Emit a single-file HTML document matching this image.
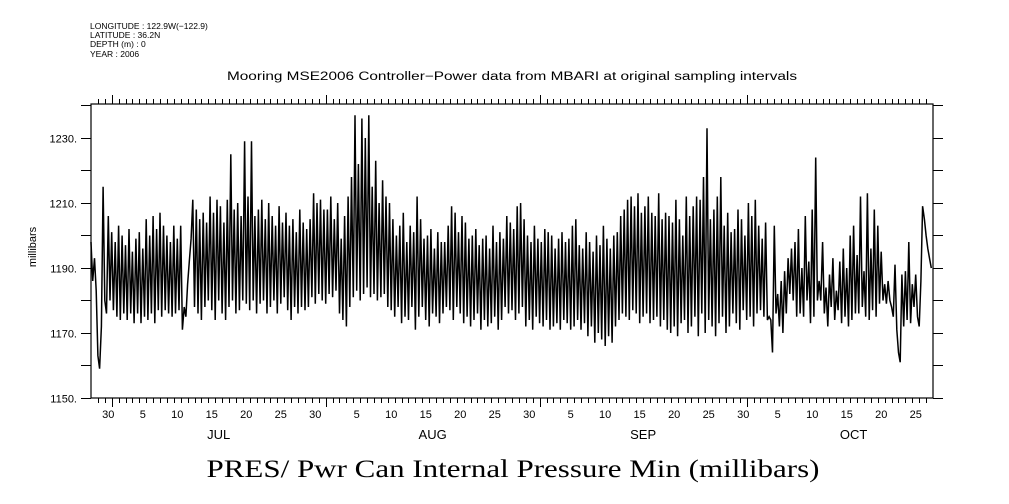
<!DOCTYPE html>
<html><head><meta charset="utf-8"><style>
html,body{margin:0;padding:0;background:#fff;}
svg{display:block;font-family:"Liberation Sans",sans-serif;}
</style></head><body>
<svg id="chart" width="1009" height="504" viewBox="0 0 1009 504" xmlns="http://www.w3.org/2000/svg">
<g font-size="8.5" fill="#000">
<text x="90" y="29">LONGITUDE : 122.9W(−122.9)</text>
<text x="90" y="38">LATITUDE : 36.2N</text>
<text x="90" y="47">DEPTH (m) : 0</text>
<text x="90" y="57">YEAR : 2006</text>
</g>
<text x="512" y="80" font-size="11.5" text-anchor="middle" textLength="570" lengthAdjust="spacingAndGlyphs">Mooring MSE2006 Controller−Power data from MBARI at original sampling intervals</text>
<text transform="translate(36,247) rotate(-90)" font-size="11" text-anchor="middle">millibars</text>
<text x="513" y="477" font-family="Liberation Serif, serif" font-size="25" text-anchor="middle" textLength="613" lengthAdjust="spacingAndGlyphs">PRES/ Pwr Can Internal Pressure Min (millibars)</text>
<rect x="91" y="104" width="842" height="294" fill="none" stroke="#000" stroke-width="1.2"/>
<g id="axes"></g>
<path id="series" fill="none" stroke="#000" stroke-width="1.5" stroke-linejoin="miter"/>
</svg>
<script>
const yTicks = [1150, 1170, 1190, 1210, 1230];
const yMinor = [1160, 1180, 1200, 1220, 1240];
const monthNames = ["JUL", "AUG", "SEP", "OCT"];
const monthStartDays = [0, 31, 62, 92];
const monthLengths = [31, 31, 30, 31];
const dayLabels = ["30","5","10","15","20","25","30","5","10","15","20","25","30","5","10","15","20","25","30","5","10","15","20","25"];
const dayLabelDays = [-1,4,9,14,19,24,29,35,40,45,50,55,60,66,71,76,81,86,91,96,101,106,111,116];
const startDay = -3; // Jun 28
const samplesPerDay = 4;
const pres = [
1198,1186,1193,1183, 1163,1159,1172,1215, 1180,1176,1206,1180,
1201,1177,1198,1175, 1203,1174,1200,1176, 1197,1174,1202,1176, 1195,1173,1199,1176,
1201,1173,1196,1175, 1205,1174,1200,1176, 1206,1173,1202,1177, 1207,1175,1203,1177,
1200,1176,1198,1175, 1203,1176,1199,1177, 1203,1171,1178,1175, 1185,1192,1199,1211,
1178,1208,1176,1205, 1174,1207,1178,1204, 1180,1212,1177,1207, 1174,1211,1180,1209,
1176,1204,1174,1211, 1178,1225,1180,1208, 1176,1210,1177,1206, 1180,1229,1179,1212,
1177,1229,1180,1206, 1176,1208,1179,1211, 1180,1205,1176,1210, 1178,1206,1180,1203,
1176,1209,1179,1204, 1181,1207,1177,1203, 1174,1205,1178,1201, 1176,1208,1178,1204,
1177,1202,1178,1205, 1181,1213,1179,1210, 1182,1211,1180,1208,
1179,1208,1182,1212, 1181,1205,1183,1210, 1176,1199,1174,1206, 1172,1212,1178,1218,
1181,1237,1183,1222, 1180,1236,1182,1230, 1184,1237,1181,1215, 1182,1223,1180,1210,
1181,1217,1182,1212, 1178,1210,1177,1205, 1175,1200,1178,1203, 1173,1207,1175,1198,
1174,1203,1178,1201, 1171,1212,1175,1205, 1178,1199,1174,1200, 1172,1202,1176,1196,
1175,1201,1173,1198, 1176,1198,1178,1203, 1177,1209,1174,1207, 1178,1201,1176,1206,
1173,1204,1175,1199, 1172,1200,1174,1202, 1176,1197,1171,1199, 1174,1200,1172,1196,
1173,1203,1175,1198, 1171,1201,1174,1199, 1178,1206,1176,1204, 1177,1202,1174,1209,
1176,1210,1178,1205, 1172,1200,1174,1198, 1171,1203,1175,1199,
1173,1198,1172,1202, 1174,1201,1171,1200, 1172,1196,1173,1199, 1171,1201,1174,1198,
1173,1199,1171,1203, 1172,1205,1174,1197, 1171,1196,1173,1201, 1169,1198,1172,1195,
1167,1200,1170,1197, 1168,1203,1166,1199, 1169,1196,1167,1200, 1172,1201,1174,1206,
1176,1208,1175,1211, 1174,1212,1177,1209, 1176,1213,1173,1207, 1175,1209,1176,1212,
1173,1207,1174,1206, 1175,1213,1172,1205, 1174,1207,1171,1206, 1170,1204,1172,1211,
1169,1205,1173,1200, 1174,1212,1170,1206, 1172,1209,1175,1212, 1169,1211,1176,1218,
1170,1233,1174,1205, 1172,1208,1169,1212, 1173,1218,1175,1203, 1170,1207,1172,1201,
1176,1202,1173,1208, 1171,1205,1177,1200,
1174,1210,1175,1206, 1172,1211,1176,1203, 1177,1199,1175,1204, 1174,1175,1174,1164,
1203,1176,1182,1172, 1186,1170,1189,1176, 1193,1182,1196,1180, 1198,1175,1202,1176,
1190,1175,1206,1180, 1192,1173,1208,1175, 1224,1180,1186,1180, 1198,1176,1184,1172,
1188,1178,1193,1174, 1183,1177,1192,1173, 1196,1175,1190,1172, 1200,1174,1203,1176,
1194,1176,1212,1178, 1189,1175,1213,1174, 1196,1177,1208,1175, 1203,1179,1195,1180,
1185,1179,1186,1180, 1178,1175,1191,1171, 1164,1161,1188,1172, 1189,1174,1198,1173,
1185,1178,1188,1175, 1172,1186,1209,1205, 1200,1196,1193,1190
];
const NS = "http://www.w3.org/2000/svg";
const L = 91, R = 933, T = 104, B = 398;
const dayMin = -3, dayMax = 119, vMin = 1150, vMax = 1240.46;
function xDay(d) { return L + (d - dayMin) / (dayMax - dayMin) * (R - L); }
function yVal(v) { return B - (v - vMin) / (vMax - vMin) * (B - T); }
const axes = document.getElementById('axes');
function line(x1, y1, x2, y2, name) {
  const l = document.createElementNS(NS, 'line');
  l.setAttribute('x1', x1); l.setAttribute('y1', y1); l.setAttribute('x2', x2); l.setAttribute('y2', y2);
  l.setAttribute('stroke', '#000'); l.setAttribute('stroke-width', '1');
  
  
  axes.appendChild(l);
}
function text(x, y, s, anchor, size, name) {
  const t = document.createElementNS(NS, 'text');
  t.setAttribute('x', x); t.setAttribute('y', y); t.setAttribute('text-anchor', anchor);
  t.setAttribute('font-size', size); t.textContent = s;
  
  
  axes.appendChild(t);
}
yTicks.forEach(v => {
  const y = Math.round(yVal(v)) + 0.5;
  line(81, y, L, y, 'y-tick');
  line(R, y, 943, y, 'y-tick-right');
  text(77, y + 4, v + '.', 'end', 11, 'y-tick-label');
});
yMinor.forEach(v => {
  const y = Math.round(yVal(v)) + 0.5;
  if (y < T) return;
  line(81, y, L, y, 'y-minor-tick');
  line(R, y, 943, y, 'y-minor-tick-right');
});
for (let d = dayMin + 1; d < dayMax; d++) {
  const x = Math.round(xDay(d)) + 0.5;
  const major = monthStartDays.indexOf(d) >= 0;
  line(x, B, x, B + (major ? 9 : 5), 'x-tick');
  line(x, T, x, T - (major ? 9 : 5), 'x-tick-top');
}
dayLabels.forEach((s, i) => {
  text(xDay(dayLabelDays[i] + 0.5), 418, s, 'middle', 11, 'x-day-label');
});
monthNames.forEach((m, i) => {
  text(xDay(monthStartDays[i] + monthLengths[i] / 2), 439, m, 'middle', 13, 'x-month-label');
});
let dStr = '';
pres.forEach((v, i) => {
  const d = startDay + i / samplesPerDay;
  dStr += (i ? 'L' : 'M') + xDay(d).toFixed(1) + ',' + yVal(v).toFixed(1);
});
document.getElementById('series').setAttribute('d', dStr);
</script>
</body></html>
